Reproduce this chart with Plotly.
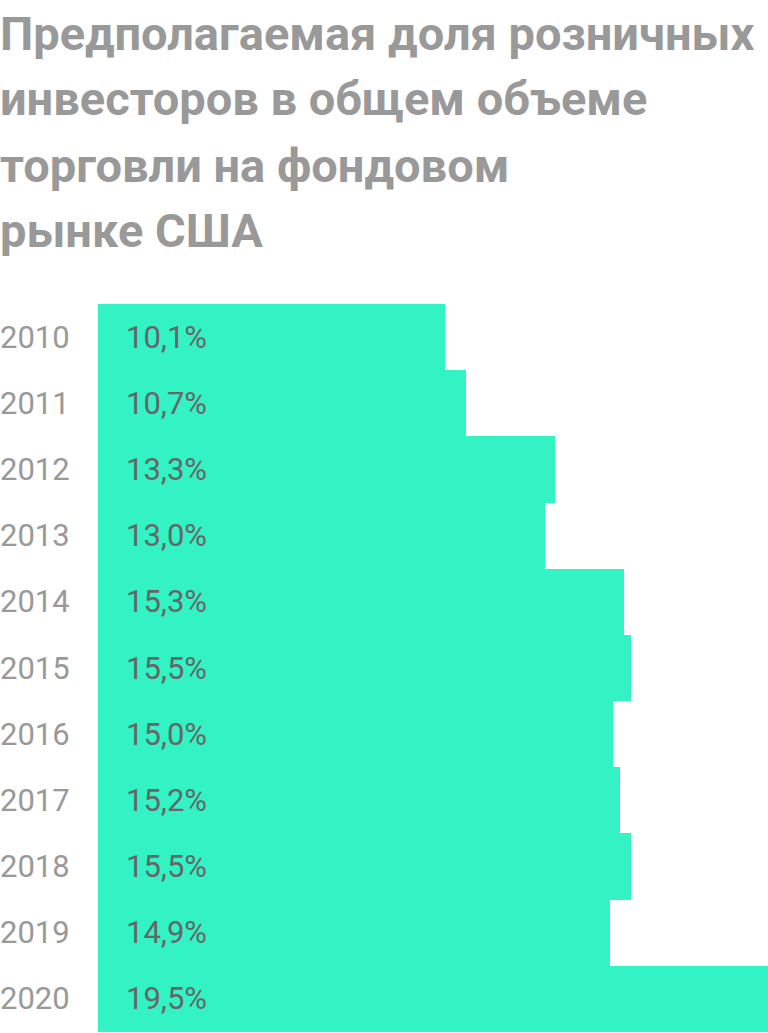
import plotly.graph_objects as go

years = ["2010", "2011", "2012", "2013", "2014", "2015", "2016", "2017", "2018", "2019", "2020"]
shares = [10.1, 10.7, 13.3, 13.0, 15.3, 15.5, 15.0, 15.2, 15.5, 14.9, 19.5]
value_labels = ["10,1%", "10,7%", "13,3%", "13,0%", "15,3%", "15,5%", "15,0%", "15,2%", "15,5%", "14,9%", "19,5%"]
title_lines = ["Предполагаемая доля розничных", "инвесторов в общем объеме", "торговли на фондовом", "рынке США"]

W, H = 768, 1033
L, R, T, B = 98, 0, 304, 1
plot_h = H - T - B
plot_w = W - L - R

fig = go.Figure(go.Bar(
    x=shares, y=years, orientation="h",
    marker=dict(color="#33F3C5", line=dict(width=0)),
    hoverinfo="skip",
))

ann = []
for i, (yr, lab) in enumerate(zip(years, value_labels)):
    ann.append(dict(x=0, y=i, xref="x", yref="y", text=lab, showarrow=False,
                    xanchor="left", yanchor="middle", xshift=26,
                    font=dict(family="Roboto", size=31, color="#666666")))
    ann.append(dict(x=-L / plot_w, y=i, xref="paper", yref="y", text=yr, showarrow=False,
                    xanchor="left", yanchor="middle", xshift=-2,
                    font=dict(family="Roboto", size=31, color="#999999")))

centers = [33, 99, 165, 231]
for line, c in zip(title_lines, centers):
    ann.append(dict(x=-L / plot_w, y=(H - B - c) / plot_h, xref="paper", yref="paper",
                    text="<b>" + line + "</b>", showarrow=False,
                    xanchor="left", yanchor="middle", xshift=-2,
                    font=dict(family="Roboto", size=47, color="#999999")))

fig.update_layout(
    width=W, height=H,
    margin=dict(l=L, r=R, t=T, b=B, pad=0),
    paper_bgcolor="white", plot_bgcolor="white",
    bargap=0, showlegend=False,
    xaxis=dict(range=[0, 19.5], visible=False, fixedrange=True),
    yaxis=dict(type="category", categoryorder="array", categoryarray=years,
               range=[len(years) - 0.5, -0.5], autorange=False,
               visible=False, fixedrange=True),
    annotations=ann,
)

fig.write_html("out.html", config={"displayModeBar": False},
               post_script="document.body.style.margin='0';document.body.style.overflow='hidden';")
